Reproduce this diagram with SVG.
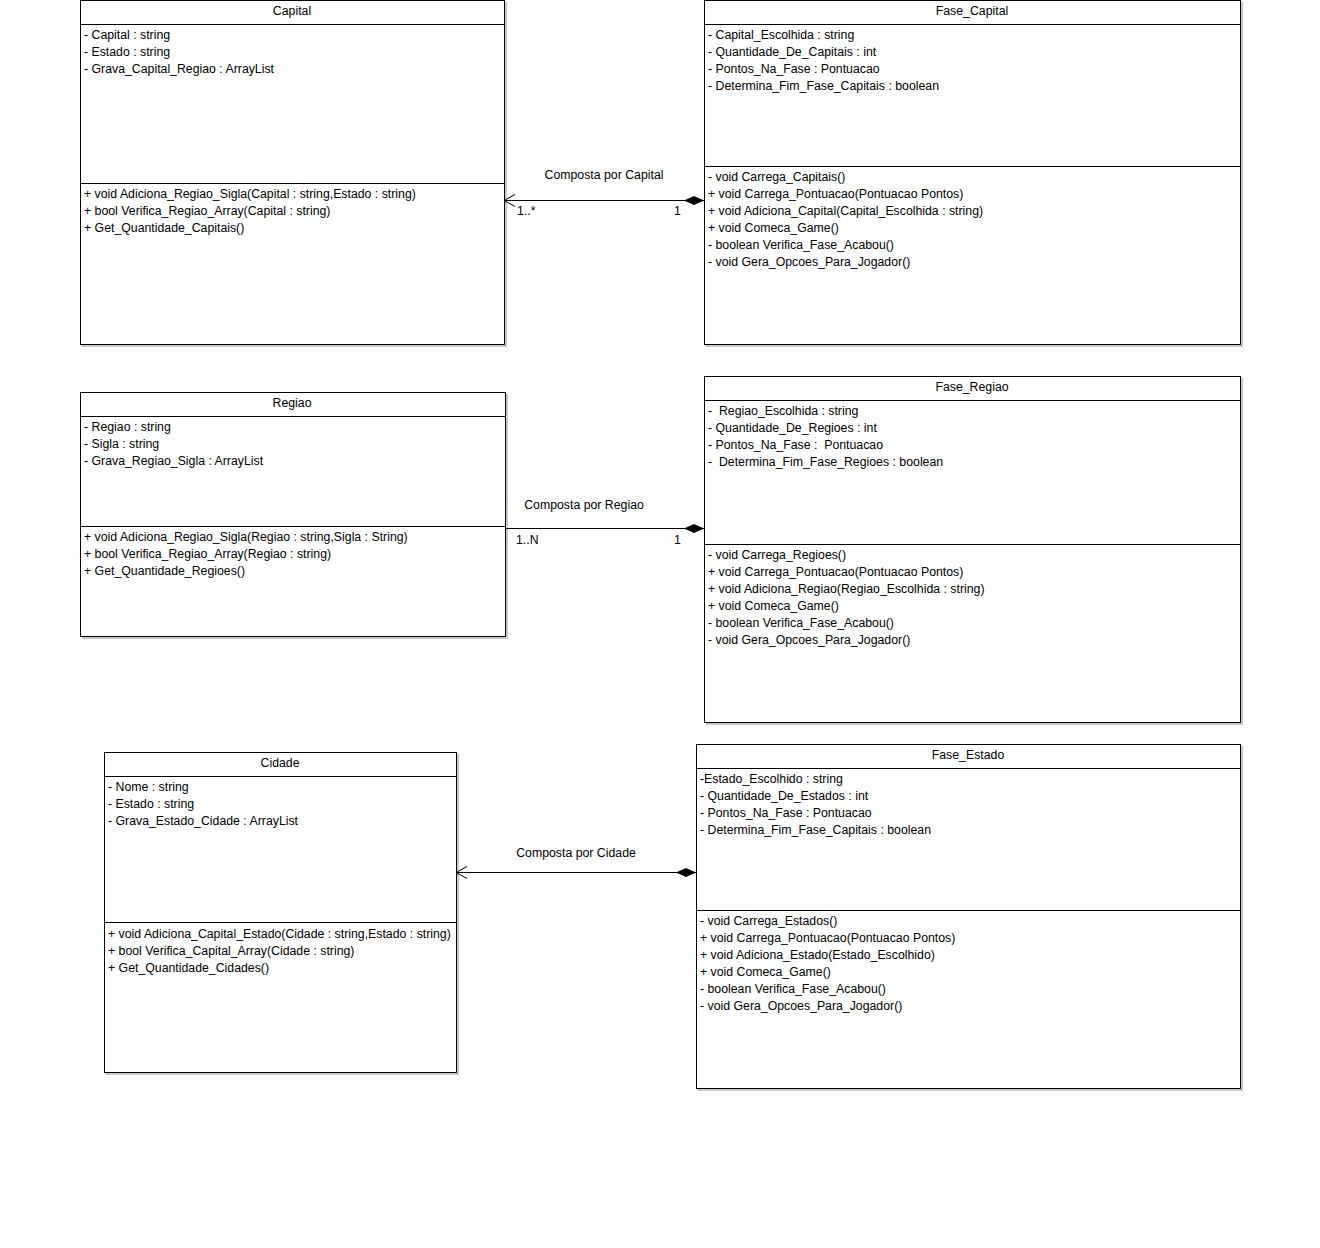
<svg xmlns="http://www.w3.org/2000/svg" width="1320" height="1248" viewBox="0 0 1320 1248">
<style>
text{font-family:"Liberation Sans",Arial,sans-serif;font-size:12.3px;fill:#000}
.t{text-anchor:middle}
.box{fill:#fff;stroke:#000;stroke-width:1}
.sh{fill:#c8c8c8}
.ln{stroke:#000;stroke-width:1;fill:none}
</style>
<defs>
<marker id="dia" markerWidth="22" markerHeight="12" refX="0" refY="6" orient="auto" markerUnits="userSpaceOnUse">
<path d="M0,6 L10,1.5 L20,6 L10,10.5 Z" fill="#000"/>
</marker>
<marker id="open" markerWidth="14" markerHeight="14" refX="11" refY="7" orient="auto" markerUnits="userSpaceOnUse">
<path d="M0,1 L11,7 L0,13" fill="none" stroke="#000" stroke-width="1"/>
</marker>
</defs>
<rect width="1320" height="1248" fill="#fff"/>

<g id="capital">
<rect class="sh" x="82" y="2" width="425" height="345"/>
<rect class="box" x="80.5" y="0.5" width="424" height="344"/>
<line class="ln" x1="80.5" y1="24.5" x2="504.5" y2="24.5"/>
<line class="ln" x1="80.5" y1="183.5" x2="504.5" y2="183.5"/>
<text class="t" x="292" y="15">Capital</text>
<text x="84" y="39">- Capital : string</text>
<text x="84" y="56">- Estado : string</text>
<text x="84" y="73">- Grava_Capital_Regiao : ArrayList</text>
<text x="84" y="198">+ void Adiciona_Regiao_Sigla(Capital : string,Estado : string)</text>
<text x="84" y="215">+ bool Verifica_Regiao_Array(Capital : string)</text>
<text x="84" y="232">+ Get_Quantidade_Capitais()</text>
</g>

<g id="fase_capital">
<rect class="sh" x="706" y="2" width="537" height="345"/>
<rect class="box" x="704.5" y="0.5" width="536" height="344"/>
<line class="ln" x1="704.5" y1="24.5" x2="1240.5" y2="24.5"/>
<line class="ln" x1="704.5" y1="166.5" x2="1240.5" y2="166.5"/>
<text class="t" x="972" y="15">Fase_Capital</text>
<text x="708" y="39">- Capital_Escolhida : string</text>
<text x="708" y="56">- Quantidade_De_Capitais : int</text>
<text x="708" y="73">- Pontos_Na_Fase : Pontuacao</text>
<text x="708" y="90">- Determina_Fim_Fase_Capitais : boolean</text>
<text x="708" y="181">- void Carrega_Capitais()</text>
<text x="708" y="198">+ void Carrega_Pontuacao(Pontuacao Pontos)</text>
<text x="708" y="215">+ void Adiciona_Capital(Capital_Escolhida : string)</text>
<text x="708" y="232">+ void Comeca_Game()</text>
<text x="708" y="249">- boolean Verifica_Fase_Acabou()</text>
<text x="708" y="266">- void Gera_Opcoes_Para_Jogador()</text>
</g>

<g id="regiao">
<rect class="sh" x="82" y="394" width="426" height="245"/>
<rect class="box" x="80.5" y="392.5" width="425" height="244"/>
<line class="ln" x1="80.5" y1="416.5" x2="505.5" y2="416.5"/>
<line class="ln" x1="80.5" y1="526.5" x2="505.5" y2="526.5"/>
<text class="t" x="292" y="407">Regiao</text>
<text x="84" y="431">- Regiao : string</text>
<text x="84" y="448">- Sigla : string</text>
<text x="84" y="465">- Grava_Regiao_Sigla : ArrayList</text>
<text x="84" y="541">+ void Adiciona_Regiao_Sigla(Regiao : string,Sigla : String)</text>
<text x="84" y="558">+ bool Verifica_Regiao_Array(Regiao : string)</text>
<text x="84" y="575">+ Get_Quantidade_Regioes()</text>
</g>

<g id="fase_regiao">
<rect class="sh" x="706" y="378" width="537" height="347"/>
<rect class="box" x="704.5" y="376.5" width="536" height="346"/>
<line class="ln" x1="704.5" y1="400.5" x2="1240.5" y2="400.5"/>
<line class="ln" x1="704.5" y1="544.5" x2="1240.5" y2="544.5"/>
<text class="t" x="972" y="391">Fase_Regiao</text>
<text x="708" y="415" xml:space="preserve">-  Regiao_Escolhida : string</text>
<text x="708" y="432">- Quantidade_De_Regioes : int</text>
<text x="708" y="449" xml:space="preserve">- Pontos_Na_Fase :  Pontuacao</text>
<text x="708" y="466" xml:space="preserve">-  Determina_Fim_Fase_Regioes : boolean</text>
<text x="708" y="559">- void Carrega_Regioes()</text>
<text x="708" y="576">+ void Carrega_Pontuacao(Pontuacao Pontos)</text>
<text x="708" y="593">+ void Adiciona_Regiao(Regiao_Escolhida : string)</text>
<text x="708" y="610">+ void Comeca_Game()</text>
<text x="708" y="627">- boolean Verifica_Fase_Acabou()</text>
<text x="708" y="644">- void Gera_Opcoes_Para_Jogador()</text>
</g>

<g id="cidade">
<rect class="sh" x="106" y="754" width="353" height="321"/>
<rect class="box" x="104.5" y="752.5" width="352" height="320"/>
<line class="ln" x1="104.5" y1="776.5" x2="456.5" y2="776.5"/>
<line class="ln" x1="104.5" y1="922.5" x2="456.5" y2="922.5"/>
<text class="t" x="280" y="767">Cidade</text>
<text x="108" y="791">- Nome : string</text>
<text x="108" y="808">- Estado : string</text>
<text x="108" y="825">- Grava_Estado_Cidade : ArrayList</text>
<text x="108" y="938">+ void Adiciona_Capital_Estado(Cidade : string,Estado : string)</text>
<text x="108" y="955">+ bool Verifica_Capital_Array(Cidade : string)</text>
<text x="108" y="972">+ Get_Quantidade_Cidades()</text>
</g>

<g id="fase_estado">
<rect class="sh" x="698" y="746" width="545" height="345"/>
<rect class="box" x="696.5" y="744.5" width="544" height="344"/>
<line class="ln" x1="696.5" y1="768.5" x2="1240.5" y2="768.5"/>
<line class="ln" x1="696.5" y1="910.5" x2="1240.5" y2="910.5"/>
<text class="t" x="968" y="759">Fase_Estado</text>
<text x="700" y="783">-Estado_Escolhido : string</text>
<text x="700" y="800">- Quantidade_De_Estados : int</text>
<text x="700" y="817">- Pontos_Na_Fase : Pontuacao</text>
<text x="700" y="834">- Determina_Fim_Fase_Capitais : boolean</text>
<text x="700" y="925">- void Carrega_Estados()</text>
<text x="700" y="942">+ void Carrega_Pontuacao(Pontuacao Pontos)</text>
<text x="700" y="959">+ void Adiciona_Estado(Estado_Escolhido)</text>
<text x="700" y="976">+ void Comeca_Game()</text>
<text x="700" y="993">- boolean Verifica_Fase_Acabou()</text>
<text x="700" y="1010">- void Gera_Opcoes_Para_Jogador()</text>
</g>

<g id="connectors">
<line class="ln" x1="704" y1="200.5" x2="504" y2="200.5" marker-start="url(#dia)" marker-end="url(#open)"/>
<text class="t" x="604" y="179">Composta por Capital</text>
<text x="517" y="215">1..*</text>
<text x="674" y="215">1</text>

<line class="ln" x1="704" y1="528.5" x2="505" y2="528.5" marker-start="url(#dia)"/>
<text class="t" x="584" y="509">Composta por Regiao</text>
<text x="516" y="544">1..N</text>
<text x="674" y="544">1</text>

<line class="ln" x1="696" y1="872.5" x2="456" y2="872.5" marker-start="url(#dia)" marker-end="url(#open)"/>
<text class="t" x="576" y="857">Composta por Cidade</text>
</g>
</svg>
